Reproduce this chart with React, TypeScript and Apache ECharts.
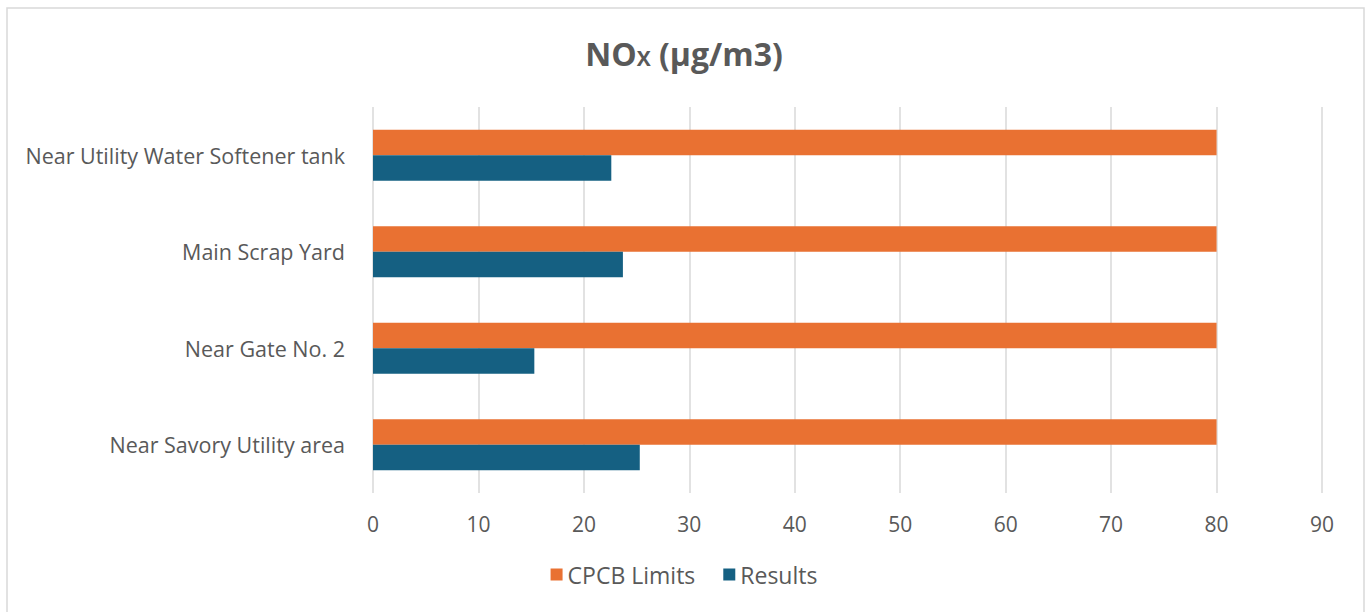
import React, { useEffect, useRef } from "react";
import * as echarts from "echarts";

const categories = [
  "Near Savory Utility area",
  "Near Gate No. 2",
  "Main Scrap Yard",
  "Near Utility Water Softener tank",
];
const cpcbLimits = [80, 80, 80, 80];
const results = [25.3, 15.3, 23.7, 22.6];
const xTicks = { min: 0, max: 90, interval: 10 };

export default function App() {
  const ref = useRef<HTMLDivElement>(null);
  useEffect(() => {
    if (!ref.current) return;
    const chart = echarts.init(ref.current, undefined, { renderer: "svg" });
    const font = "'Open Sans', sans-serif";
    chart.setOption({
      animation: false,
      backgroundColor: "#ffffff",
      title: {
        text: "{a|NO}{b|X}{a| (µg/m3)}",
        left: "center",
        top: 32,
        textStyle: {
          rich: {
            a: { fontSize: 32, fontWeight: "bold", color: "#595959", fontFamily: font, verticalAlign: "bottom" },
            b: { fontSize: 21, fontWeight: "bold", color: "#595959", fontFamily: font, verticalAlign: "bottom", padding: [0, 0, 1, 0] },
          },
        },
      },
      graphic: [
        {
          type: "rect",
          shape: { x: 7, y: 8, width: 1357, height: 620 },
          style: { fill: "none", stroke: "#d9d9d9", lineWidth: 1.5 },
          silent: true,
        },
      ],
      legend: {
        bottom: 21,
        left: "center",
        itemWidth: 12,
        itemHeight: 12,
        itemGap: 28,
        itemTextGap: 8,
        icon: "rect",
        data: ["CPCB Limits", "Results"],
        textStyle: { fontSize: 23, color: "#595959", fontFamily: font },
      },
      grid: { left: 373, right: 46, top: 107, bottom: 119, containLabel: false },
      xAxis: {
        type: "value",
        min: xTicks.min,
        max: xTicks.max,
        interval: xTicks.interval,
        axisLine: { show: false },
        axisTick: { show: false },
        splitLine: { show: true, lineStyle: { color: "#d9d9d9", width: 1.5 } },
        axisLabel: { fontSize: 21, color: "#595959", fontFamily: font, margin: 20 },
      },
      yAxis: {
        type: "category",
        data: categories,
        axisLine: { show: false },
        axisTick: { show: false },
        axisLabel: { fontSize: 21.5, color: "#595959", fontFamily: font, margin: 28 },
      },
      series: [
        {
          name: "CPCB Limits",
          type: "bar",
          data: cpcbLimits,
          itemStyle: { color: "#E97132" },
          barGap: "0%",
          barCategoryGap: "47%",
        },
        {
          name: "Results",
          type: "bar",
          data: results,
          itemStyle: { color: "#156082" },
          barGap: "0%",
          barCategoryGap: "47%",
        },
      ],
    });
    return () => chart.dispose();
  }, []);
  return (
    <div
      ref={ref}
      style={{ position: "absolute", left: 0, top: 0, width: 1368, height: 612 }}
    />
  );
}
